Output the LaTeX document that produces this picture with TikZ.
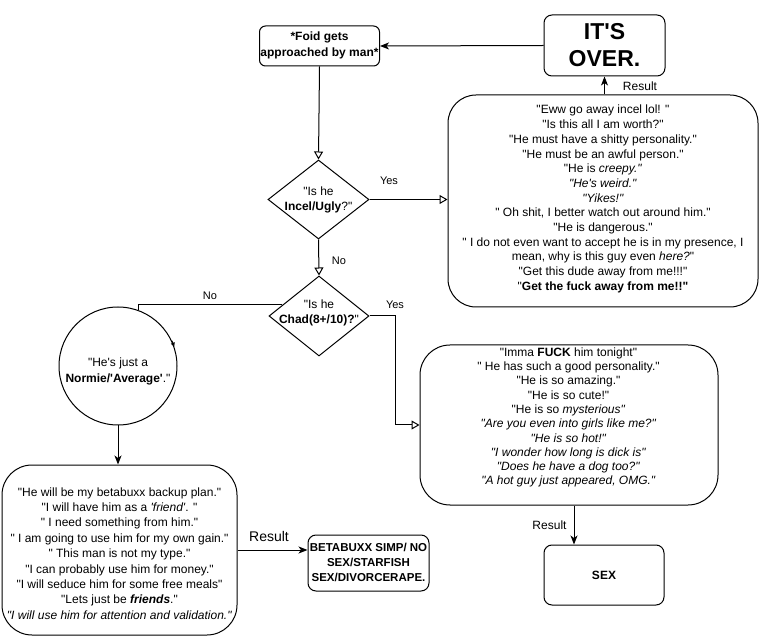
\documentclass[tikz,border=0pt]{standalone}
\usepackage{fontspec}
\setmainfont{Liberation Sans}[Ligatures=TeXOff]
\usetikzlibrary{arrows.meta,shapes.geometric,calc}
\begin{document}
\begin{tikzpicture}[x=1pt,y=-1pt,
  box/.style={draw, line width=1pt, rounded corners=#1, inner sep=0pt},
  box/.default=8pt,
  txt/.style={inner sep=0pt, align=center},
  conn/.style={line width=1pt},
  openarr/.style={conn, -{Triangle[open,length=8pt,width=9pt]}},
  fillarr/.style={conn, -{Stealth[length=9pt,width=7pt,inset=2.5pt]}},
  lbl/.style={inner sep=0pt, font=\fontsize{11}{13}\selectfont},
  f12/.style={font=\fontsize{12}{14.7}\selectfont}
]
\useasboundingbox[fill=white] (0,0) rectangle (761,636);

% nodes (shapes)
\node[box=6pt, minimum width=120pt, minimum height=40pt] (foid) at (319.5,46) {};
\node[box=8pt, minimum width=121pt, minimum height=61pt] (over) at (604.5,45.5) {};
\node[box=28pt, minimum width=310pt, minimum height=212pt] (incel) at (603,201) {};
\node[draw, line width=1pt, diamond, minimum width=101pt, minimum height=79pt, inner sep=0pt] (d1) at (318.5,199.5) {};
\node[draw, line width=1pt, diamond, minimum width=100pt, minimum height=80pt, inner sep=0pt] (d2) at (319,316) {};
\node[draw, line width=1pt, circle, minimum size=118pt, inner sep=0pt] (normie) at (118,366) {};
\node[box=30pt, minimum width=235pt, minimum height=170pt] (leftbox) at (119.5,550) {};
\node[box=8pt, minimum width=121pt, minimum height=56pt] (beta) at (368.5,563) {};
\node[box=30pt, minimum width=298pt, minimum height=160pt] (chad) at (569,425) {};
\node[box=8pt, minimum width=120pt, minimum height=60pt] (sex) at (604,575) {};

% texts
\node[txt, font=\bfseries\fontsize{12}{16}\selectfont] (foidt) at (319.5,45.5) {*Foid gets\\approached by man*};
\node[txt, font=\bfseries\fontsize{23}{27}\selectfont] (overt) at (604.5,45.5) {IT'S\\OVER.};
\node[txt, font=\fontsize{12}{14.7}\selectfont] (incelt) at (603,199) {"Eww go away incel lol! "\\
"Is this all I am worth?"\\
"He must have a shitty personality."\\
"He must be an awful person."\\
"He is \textit{creepy."}\\
\textit{"He's weird."}\\
\textit{"Yikes!"}\\
" Oh shit, I better watch out around him."\\
"He is dangerous."\\
" I do not even want to accept he is in my presence, I\\
mean, why is this guy even \textit{here?}"\\
"Get this dude away from me!!!"\\
"\textbf{Get the fuck away from me!!"}};
\node[txt, font=\fontsize{12}{15}\selectfont] (d1t) at (318.5,199.5) {"Is he\\\textbf{Incel/Ugly}?"};
\node[txt, font=\fontsize{12}{15}\selectfont] (d2t) at (319,312.5) {"Is he\\\textbf{Chad(8+/10)?}"};
\node[txt, font=\fontsize{12}{16}\selectfont] (normiet) at (118,371) {"He's just a\\\textbf{Normie/'Average'}."};
\node[txt, font=\fontsize{12}{15.4}\selectfont] (leftt) at (119.5,553.5) {"He will be my betabuxx backup plan."\\
"I will have him as a \textit{'friend'}. "\\
" I need something from him."\\
" I am going to use him for my own gain."\\
" This man is not my type."\\
"I can probably use him for money."\\
"I will seduce him for some free meals"\\
"Lets just be \textbf{\textit{friends}}."\\
\textit{"I will use him for attention and validation."}};
\node[txt, font=\bfseries\fontsize{11.5}{15}\selectfont] (betat) at (368.5,562) {BETABUXX SIMP/ NO\\SEX/STARFISH\\SEX/DIVORCERAPE.};
\node[txt, font=\fontsize{12}{14.3}\selectfont] (chadt) at (568.5,417.5) {"Imma \textbf{FUCK} him tonight"\\
" He has such a good personality."\\
"He is so amazing."\\
"He is so cute!"\\
"He is so \textit{mysterious"}\\
\textit{"Are you even into girls like me?"}\\
\textit{"He is so hot!"}\\
\textit{"I wonder how long is dick is"}\\
\textit{"Does he have a dog too?"}\\
\textit{"A hot guy just appeared, OMG."}};
\node[txt, font=\bfseries\fontsize{12}{14}\selectfont] (sext) at (604,575) {SEX};

% connectors
\draw[fillarr] (over.west) -- (foid.east);
\draw[fillarr] (incel.north -| over.south) -- (over.south);
\node[txt, font=\fontsize{12}{14}\selectfont] (r1) at (640,86) {Result};
\draw[openarr] (foid.south) -- (d1.north);
\draw[openarr] (d1.east) -- (incel.west |- d1.east);
\node[lbl] (yes1) at (389,181) {Yes};
\draw[openarr] (d1.south) -- (d2.north);
\node[lbl] (no1) at (339,261) {No};
\coordinate (d2l) at ($(d2.west)!0.275!(d2.north)$);
\draw[conn] (d2l) -| (normie.70);
\draw[conn, -{Triangle[open,length=4pt,width=4pt]}] (normie.25) -- (normie.19);
\node[lbl] (no2) at (210,296) {No};
\coordinate (cx) at (395,0);
\draw[openarr] (d2.east) -- (d2.east -| cx) |- (chad.west);
\node[lbl] (yes2) at (395,305) {Yes};
\draw[fillarr] (normie.south) -- (leftbox.north -| normie.south);
\draw[fillarr] (leftbox.east) -- (leftbox.east -| beta.west);
\node[txt, font=\fontsize{14}{16}\selectfont] (r2) at (269,536) {Result};
\coordinate (sx) at (574,0);
\draw[fillarr] (chad.south -| sx) -- (sex.north -| sx);
\node[txt, font=\fontsize{12}{14}\selectfont] (r3) at (549.5,525) {Result};
\end{tikzpicture}
\end{document}
